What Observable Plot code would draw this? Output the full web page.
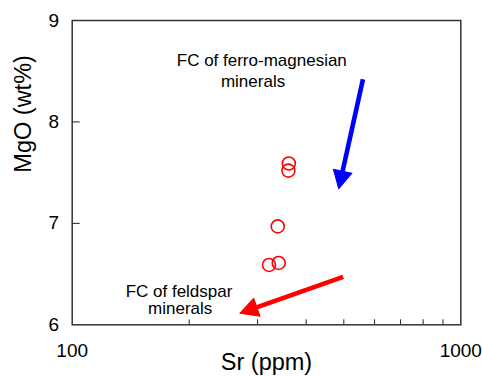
<!DOCTYPE html>
<html><head><meta charset="utf-8">
<script src="https://cdn.jsdelivr.net/npm/d3@7"></script>
<script src="https://cdn.jsdelivr.net/npm/@observablehq/plot@0.6"></script>
<style>body{margin:0;background:#fff} svg{display:block}</style>
</head><body><div id="chart"></div>
<script>
// Samples: Sr (ppm) vs MgO (wt%)
const sr = [361, 360, 338, 321, 340];
const mgo = [7.59, 7.52, 6.97, 6.59, 6.61];

// Axis ticks
const xMajorTicks = [100, 1000];
const xMinorTicks = [200, 300, 400, 500, 600, 700, 800, 900];
const yTicks = [6, 7, 8, 9];

// Fractional-crystallisation trend arrows (shaft start and shaft end, data units)
const arrowNames = ["ferro-magnesian", "feldspar"];
const arrowX1 = [560, 498];
const arrowY1 = [8.42, 6.473];
const arrowX2 = [494, 292];
const arrowY2 = [7.476, 6.16];
const arrowColors = ["#0000ff", "#ff0000"];

// Annotation lines
const noteLines = ["FC of ferro-magnesian", "minerals", "FC of feldspar", "minerals"];
const noteX = [307.5, 292, 188.3, 189.6];
const noteY = [8.547, 8.343, 6.279, 6.106];

const points = sr.map((x, i) => ({x, y: mgo[i]}));
const arrows = arrowNames.map((name, i) => ({name, x1: arrowX1[i], y1: arrowY1[i], x2: arrowX2[i], y2: arrowY2[i], color: arrowColors[i]}));
const notes = noteLines.map((text, i) => ({text, x: noteX[i], y: noteY[i]}));

const font = "'Liberation Sans', Arial, Helvetica, sans-serif";

const svg = Plot.plot({
  width: 482,
  height: 376,
  marginLeft: 71.7,
  marginRight: 21.7,
  marginTop: 20,
  marginBottom: 51.7,
  style: {fontFamily: font, background: "#fff", color: "#000"},
  x: {type: "log", domain: [100, 1000], axis: null, label: null},
  y: {domain: [6, 9], axis: null, label: null},
  marks: [
    Plot.axisX(xMinorTicks, {tickSize: 5, dy: -5, tickFormat: () => "", stroke: "#222", label: null}),
    Plot.axisY(yTicks.slice(1, 3), {tickSize: 8, dx: 8, tickFormat: () => "", stroke: "#222", label: null}),
    Plot.axisX(xMajorTicks, {tickSize: 0, tickPadding: 19, fontSize: 19, tickFormat: d => String(d), label: null}),
    Plot.axisY(yTicks, {tickSize: 0, tickPadding: 13, fontSize: 19, tickFormat: d => String(d), label: null}),
    Plot.frame({stroke: "#333", strokeWidth: 1.5}),
    Plot.dot(points, {x: "x", y: "y", r: 6.5, stroke: "#ff0000", strokeWidth: 1.6, fill: "none"}),
    Plot.link(arrows, {x1: "x1", y1: "y1", x2: "x2", y2: "y2", stroke: "color", strokeWidth: 4.6}),
    Plot.text(notes, {x: "x", y: "y", text: "text", lineAnchor: "bottom", textAnchor: "middle", fontSize: 17, fill: "#000"}),
    Plot.text(["Sr (ppm)"], {frameAnchor: "bottom", dy: 37.7, lineAnchor: "middle", fontSize: 23.5, fill: "#000"}),
    Plot.text(["MgO (wt%)"], {frameAnchor: "left", rotate: -90, dx: -48.4, lineAnchor: "middle", fontSize: 23.5, fill: "#000"})
  ]
});

// Filled triangular arrowheads
const ns = "http://www.w3.org/2000/svg";
const defs = document.createElementNS(ns, "defs");
svg.insertBefore(defs, svg.firstChild);
const shafts = svg.querySelectorAll('g[aria-label="link"] path');
shafts.forEach((p, i) => {
  const color = p.getAttribute("stroke") || arrowColors[i];
  const id = "fc-head-" + i;
  const m = document.createElementNS(ns, "marker");
  m.setAttribute("id", id);
  m.setAttribute("viewBox", "-5 -11 21 22");
  m.setAttribute("refX", "0");
  m.setAttribute("refY", "0");
  m.setAttribute("markerWidth", "21");
  m.setAttribute("markerHeight", "22");
  m.setAttribute("markerUnits", "userSpaceOnUse");
  m.setAttribute("orient", "auto");
  const tri = document.createElementNS(ns, "path");
  tri.setAttribute("d", "M-4,-9.5L14,0L-4,9.5Z");
  tri.setAttribute("fill", color);
  tri.setAttribute("stroke", color);
  tri.setAttribute("stroke-width", "1");
  tri.setAttribute("stroke-linejoin", "round");
  m.appendChild(tri);
  defs.appendChild(m);
  p.setAttribute("marker-end", `url(#${id})`);
});

document.getElementById("chart").appendChild(svg);
</script>
</body></html>
